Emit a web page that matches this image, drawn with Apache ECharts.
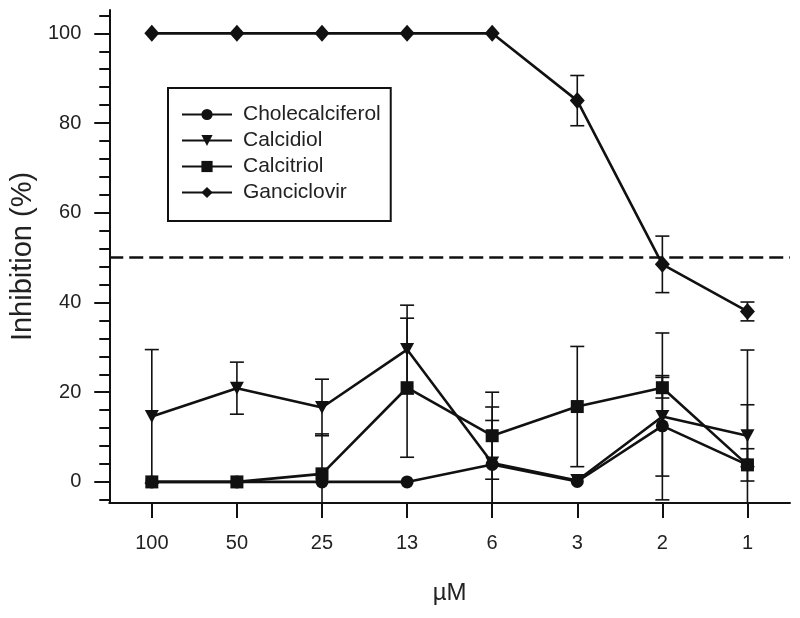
<!DOCTYPE html>
<html>
<head>
<meta charset="utf-8">
<script src="https://cdn.jsdelivr.net/npm/echarts@6/dist/echarts.min.js"></script>
<style>html,body{margin:0;padding:0;background:#fff;}#chart{width:800px;height:618px;}</style>
</head>
<body>
<div id="chart"></div>
<script>
const categories = ['100', '50', '25', '13', '6', '3', '2', '1'];
const cholecalciferol = [0, 0, 0, 0, 3.9, 0.1, 12.5, 3.8];
const cholecalciferolErr = [0, 0, 0, 0, 12.8, 0, 11.2, 25.6];
const calcidiol = [14.6, 20.9, 16.6, 29.5, 4.2, 0.3, 14.6, 10.3];
const calcidiolErr = [14.9, 5.8, 6.3, 9.9, 9.5, 0, 18.6, 6.9];
const calcitriol = [0, 0, 1.8, 21.0, 10.3, 16.8, 21.0, 3.8];
const calcitriolErr = [0, 0, 8.9, 15.5, 9.7, 13.4, 2.3, 3.6];
const ganciclovir = [100, 100, 100, 100, 100, 85, 48.5, 38];
const ganciclovirErr = [0, 0, 0, 0, 0, 5.6, 6.3, 2.1];
const yLabelValues = [0, 20, 40, 60, 80, 100];
const yMinorValues = [-4, 0, 4, 8, 12, 16, 20, 24, 28, 32, 36, 40, 44, 48, 52, 56, 60, 64, 68, 72, 76, 80, 84, 88, 92, 96, 100, 104];
const thresholdValue = 50;

const Y_MIN = -4.7, Y_MAX = 105.2;
const INK = '#111';
const FONT = 'Liberation Sans, Arial, sans-serif';

function errData(vals, errs) {
  const out = [];
  vals.forEach((v, i) => { if (errs[i] > 0) out.push([i, v - errs[i], v + errs[i]]); });
  return out;
}

function errorSeries(vals, errs) {
  return {
    type: 'custom',
    xAxisIndex: 0, yAxisIndex: 0,
    silent: true,
    z: 1,
    renderItem: function (params, api) {
      const x = api.value(0);
      let lo = api.value(1);
      const hi = api.value(2);
      const clippedLo = lo < Y_MIN;
      if (clippedLo) lo = Y_MIN;
      const pHi = api.coord([x, hi]);
      const pLo = api.coord([x, lo]);
      const hw = 7;
      const style = { stroke: INK, lineWidth: 1.6 };
      const children = [
        { type: 'line', shape: { x1: pHi[0], y1: pHi[1], x2: pLo[0], y2: pLo[1] }, style: style },
        { type: 'line', shape: { x1: pHi[0] - hw, y1: pHi[1], x2: pHi[0] + hw, y2: pHi[1] }, style: style }
      ];
      if (!clippedLo) {
        children.push({ type: 'line', shape: { x1: pLo[0] - hw, y1: pLo[1], x2: pLo[0] + hw, y2: pLo[1] }, style: style });
      }
      return { type: 'group', children: children };
    },
    data: errData(vals, errs)
  };
}

function lineSeries(name, vals, symbol, size, rotate) {
  return {
    name: name,
    type: 'line',
    data: vals,
    symbol: symbol,
    symbolSize: size,
    symbolRotate: rotate || 0,
    showAllSymbol: true,
    z: 3,
    lineStyle: { color: INK, width: 2.6 },
    itemStyle: { color: INK, borderColor: INK, borderWidth: 0 },
    animation: false
  };
}

const chart = echarts.init(document.getElementById('chart'), null, { renderer: 'canvas' });

const ganSeries = lineSeries('Ganciclovir', ganciclovir, 'diamond', [15, 17]);
ganSeries.markLine = {
  silent: true,
  symbol: ['none', 'none'],
  label: { show: false },
  lineStyle: { color: INK, width: 2.6, type: [14, 6] },
  data: [{ yAxis: thresholdValue }]
};

chart.setOption({
  animation: false,
  backgroundColor: '#fff',
  textStyle: { fontFamily: FONT },
  grid: { left: 103, right: 10, top: 10, bottom: 115, containLabel: false },
  legend: {
    orient: 'vertical',
    left: 168, top: 88,
    padding: [16, 10, 18, 13],
    itemGap: 5,
    itemWidth: 50,
    itemHeight: 14,
    borderColor: INK,
    borderWidth: 2,
    borderRadius: 0,
    backgroundColor: '#fff',
    textStyle: { fontSize: 21, color: '#222', fontFamily: FONT, padding: [0, 0, 0, 6] },
    data: ['Cholecalciferol', 'Calcidiol', 'Calcitriol', 'Ganciclovir']
  },
  xAxis: {
    type: 'category',
    data: categories,
    boundaryGap: true,
    name: 'µM',
    nameLocation: 'middle',
    nameGap: 78,
    nameTextStyle: { fontSize: 24, color: '#222', fontFamily: FONT },
    axisLine: { onZero: false, lineStyle: { color: INK, width: 2 } },
    axisTick: { show: true, alignWithLabel: true, length: 15, lineStyle: { color: INK, width: 2 } },
    axisLabel: { fontSize: 20, color: '#222', margin: 30, fontFamily: FONT },
    splitLine: { show: false }
  },
  yAxis: [
    {
      type: 'value',
      min: Y_MIN, max: Y_MAX,
      name: 'Inhibition (%)',
      nameLocation: 'middle',
      nameGap: 66,
      nameTextStyle: { fontSize: 29, color: '#222', fontFamily: FONT },
      axisLine: { show: true, onZero: false, lineStyle: { color: INK, width: 2 } },
      axisTick: { show: true, length: 15, customValues: yLabelValues, lineStyle: { color: INK, width: 2 } },
      axisLabel: { fontSize: 20, color: '#222', margin: 28, customValues: yLabelValues, fontFamily: FONT },
      splitLine: { show: false }
    },
    {
      type: 'value',
      min: Y_MIN, max: Y_MAX,
      position: 'left',
      axisLine: { show: false, onZero: false },
      axisTick: { show: true, length: 10, customValues: yMinorValues, lineStyle: { color: INK, width: 2 } },
      axisLabel: { show: false },
      splitLine: { show: false }
    }
  ],
  series: [
    errorSeries(cholecalciferol, cholecalciferolErr),
    errorSeries(calcidiol, calcidiolErr),
    errorSeries(calcitriol, calcitriolErr),
    errorSeries(ganciclovir, ganciclovirErr),
    lineSeries('Cholecalciferol', cholecalciferol, 'circle', 13),
    lineSeries('Calcidiol', calcidiol, 'triangle', [14, 13], 180),
    lineSeries('Calcitriol', calcitriol, 'rect', 13),
    ganSeries
  ]
});
</script>
</body>
</html>
